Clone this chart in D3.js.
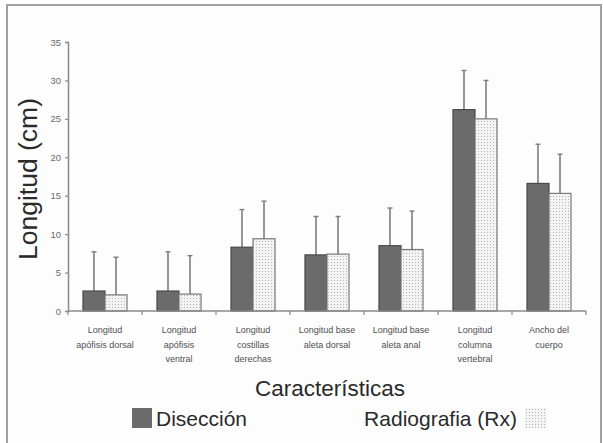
<!DOCTYPE html>
<html>
<head>
<meta charset="utf-8">
<script src="https://cdn.jsdelivr.net/npm/d3@7"></script>
<style>
  html, body { margin: 0; padding: 0; background: #fff; }
  svg { display: block; font-family: "Liberation Sans", Arial, sans-serif; }
</style>
</head>
<body>
<svg id="chart" width="603" height="443"></svg>
<script>
// Category labels (line-broken as printed under the axis)
const categories = [
  ["Longitud", "apófisis dorsal"],
  ["Longitud", "apófisis", "ventral"],
  ["Longitud", "costillas", "derechas"],
  ["Longitud base", "aleta dorsal"],
  ["Longitud base", "aleta anal"],
  ["Longitud", "columna", "vertebral"],
  ["Ancho del", "cuerpo"]
];
const seriesNames = ["Disección", "Radiografia (Rx)"];
// Means and mean + SD for each method
const diseccion = [2.6, 2.6, 8.3, 7.3, 8.5, 26.2, 16.6];
const diseccionTop = [7.7, 7.7, 13.2, 12.3, 13.4, 31.3, 21.7];
const radiografia = [2.1, 2.2, 9.4, 7.4, 8.0, 25.0, 15.3];
const radiografiaTop = [7.0, 7.2, 14.3, 12.3, 13.0, 30.0, 20.4];
const yTicks = [0, 5, 10, 15, 20, 25, 30, 35];

const svg = d3.select("#chart");

// dotted fill for the radiography bars
const defs = svg.append("defs");
const pat = defs.append("pattern")
  .attr("id", "dots").attr("patternUnits", "userSpaceOnUse")
  .attr("width", 3).attr("height", 3);
pat.append("rect").attr("width", 3).attr("height", 3).attr("fill", "#f3f3f3");
pat.append("rect").attr("x", 1).attr("y", 1).attr("width", 1).attr("height", 1).attr("fill", "#b4b4b4");

// outer frame
svg.append("rect").attr("x", 7).attr("y", 5).attr("width", 594).attr("height", 450)
  .attr("fill", "#fdfdfd").attr("stroke", "#a0a0a0").attr("stroke-width", 2);

const x0 = 68, x1 = 586, yBase = 311, yTop = 42;
const idx = d3.range(categories.length);

const x = d3.scaleBand().domain(idx).range([x0, x1]).paddingInner(0).paddingOuter(0);
const xs = d3.scaleBand().domain([0, 1]).range([0, x.bandwidth()]).paddingInner(0).paddingOuter(0.68);
const y = d3.scaleLinear().domain([0, 35]).range([yBase, yTop]);

const axisColor = "#8a8a8a";

// y axis
const yAxis = svg.append("g").attr("transform", `translate(${x0},0)`)
  .call(d3.axisLeft(y).tickValues(yTicks).tickSize(3).tickPadding(4));
yAxis.select(".domain").attr("stroke", axisColor).attr("stroke-width", 1.5);
yAxis.selectAll(".tick line").attr("stroke", axisColor).attr("stroke-width", 1.2);
yAxis.selectAll(".tick text").attr("fill", "#6a6a6a").attr("font-size", 9.5);

// bars
const series = [
  { vals: diseccion, tops: diseccionTop, fill: "#6b6b6b", stroke: "#4a4a4a" },
  { vals: radiografia, tops: radiografiaTop, fill: "url(#dots)", stroke: "#7a7a7a" }
];
series.forEach((s, si) => {
  const g = svg.append("g");
  // error bars (upper only)
  g.selectAll("line.err").data(idx).join("line")
    .attr("x1", i => x(i) + xs(si) + xs.bandwidth() / 2)
    .attr("x2", i => x(i) + xs(si) + xs.bandwidth() / 2)
    .attr("y1", i => y(s.vals[i])).attr("y2", i => y(s.tops[i]))
    .attr("stroke", "#7d7d7d").attr("stroke-width", 1.6);
  g.selectAll("line.cap").data(idx).join("line")
    .attr("x1", i => x(i) + xs(si) + xs.bandwidth() / 2 - 2.5)
    .attr("x2", i => x(i) + xs(si) + xs.bandwidth() / 2 + 2.5)
    .attr("y1", i => y(s.tops[i])).attr("y2", i => y(s.tops[i]))
    .attr("stroke", "#7d7d7d").attr("stroke-width", 1.4);
  g.selectAll("rect").data(idx).join("rect")
    .attr("x", i => x(i) + xs(si))
    .attr("width", xs.bandwidth())
    .attr("y", i => y(s.vals[i]))
    .attr("height", i => yBase - y(s.vals[i]))
    .attr("fill", s.fill).attr("stroke", s.stroke).attr("stroke-width", 1.2);
});

// x axis with ticks at category boundaries
const xb = svg.append("g");
xb.append("line").attr("x1", x0).attr("x2", x1).attr("y1", yBase).attr("y2", yBase)
  .attr("stroke", axisColor).attr("stroke-width", 1.5);
xb.selectAll("line.t").data(d3.range(categories.length + 1)).join("line")
  .attr("x1", i => x0 + i * x.bandwidth()).attr("x2", i => x0 + i * x.bandwidth())
  .attr("y1", yBase).attr("y2", yBase + 4)
  .attr("stroke", axisColor).attr("stroke-width", 1.2);

// category labels
const labels = svg.append("g").attr("fill", "#505050").attr("font-size", 9).attr("text-anchor", "middle");
idx.forEach(i => {
  categories[i].forEach((line, li) => {
    labels.append("text")
      .attr("x", x(i) + x.bandwidth() / 2)
      .attr("y", 333 + li * 14.5)
      .text(line);
  });
});

// axis titles
svg.append("text").attr("x", 330).attr("y", 396).attr("text-anchor", "middle")
  .attr("font-size", 22.5).attr("fill", "#2a2a2a").text("Características");
svg.append("text").attr("transform", "translate(37,179) rotate(-90)")
  .attr("text-anchor", "middle").attr("font-size", 26.5).attr("fill", "#2a2a2a")
  .text("Longitud (cm)");

// legend
svg.append("rect").attr("x", 132).attr("y", 408).attr("width", 20).attr("height", 20)
  .attr("fill", "#6b6b6b");
svg.append("text").attr("x", 156).attr("y", 426).attr("font-size", 21).attr("fill", "#2a2a2a")
  .text(seriesNames[0]);
svg.append("text").attr("x", 517).attr("y", 426).attr("text-anchor", "end")
  .attr("font-size", 21).attr("fill", "#2a2a2a").text(seriesNames[1]);
svg.append("rect").attr("x", 525).attr("y", 408).attr("width", 22).attr("height", 20)
  .attr("fill", "url(#dots)");
</script>
</body>
</html>
